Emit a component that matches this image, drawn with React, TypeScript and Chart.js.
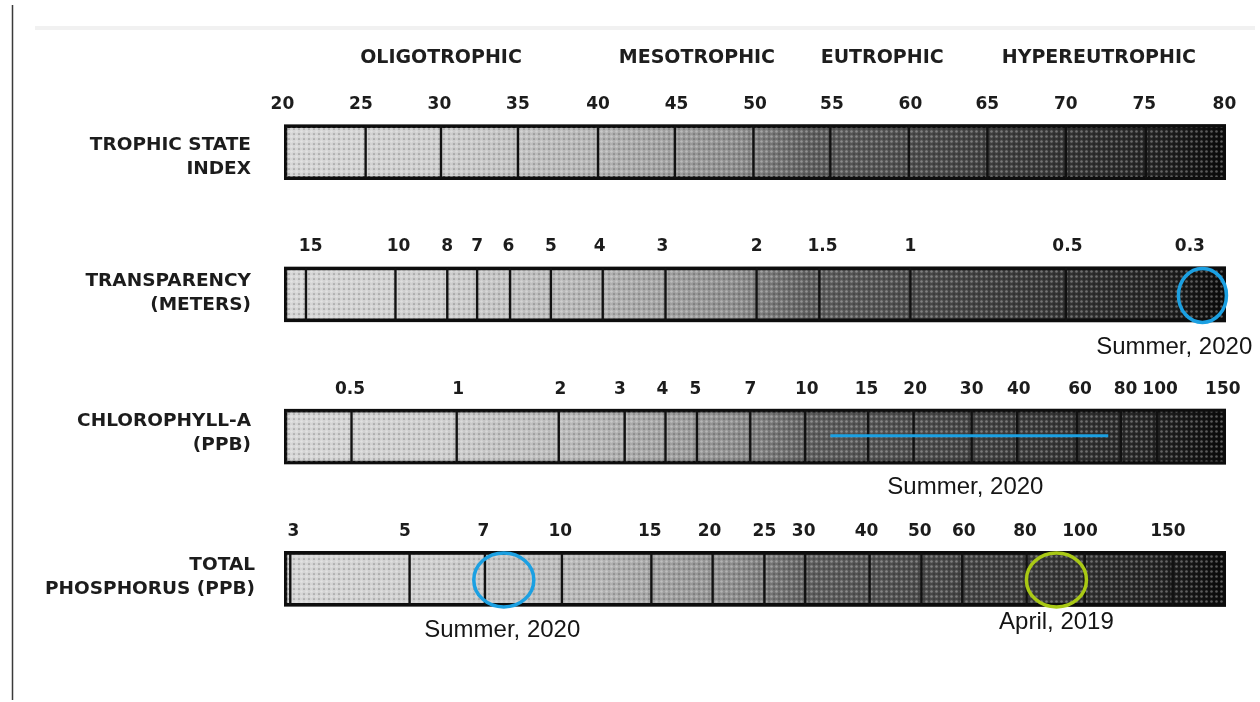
import { useEffect, useRef } from 'react';
import { Chart, registerables } from 'chart.js';

Chart.register(...registerables);

// ---------- DATA (positions on the Trophic State Index scale) ----------
const rowNames = ['TSI', 'Transparency', 'Chlorophyll', 'Phosphorus'];
const rowLabelLines = [
  ['TROPHIC STATE', 'INDEX'],
  ['TRANSPARENCY', '(METERS)'],
  ['CHLOROPHYLL-A', '(PPB)'],
  ['TOTAL', 'PHOSPHORUS (PPB)'],
];
const barStart = [20, 20, 20, 20];
const barEnd = [80, 80, 80, 80];

const stateNames = ['OLIGOTROPHIC', 'MESOTROPHIC', 'EUTROPHIC', 'HYPEREUTROPHIC'];
const statePos = [30.0, 46.3, 58.1, 71.9];

const tsiLabels = ['20', '25', '30', '35', '40', '45', '50', '55', '60', '65', '70', '75', '80'];
const tsiLabelPos = [19.9, 24.9, 29.9, 34.9, 40.0, 45.0, 50.0, 54.9, 59.9, 64.8, 69.8, 74.8, 79.9];
const tsiDividers = [25.2, 30.0, 34.9, 40.0, 44.9, 49.9, 54.8, 59.8, 64.8, 69.8, 74.9];

const sdLabels = ['15', '10', '8', '7', '6', '5', '4', '3', '2', '1.5', '1', '0.5', '0.3'];
const sdLabelPos = [21.7, 27.3, 30.4, 32.3, 34.3, 37.0, 40.1, 44.1, 50.1, 54.3, 59.9, 69.9, 77.7];
const sdDividers = [21.4, 27.1, 30.4, 32.3, 34.4, 37.0, 40.3, 44.3, 50.1, 54.1, 59.9, 69.8];

const chlLabels = ['0.5', '1', '2', '3', '4', '5', '7', '10', '15', '20', '30', '40', '60', '80', '100', '150'];
const chlLabelPos = [24.2, 31.1, 37.6, 41.4, 44.1, 46.2, 49.7, 53.3, 57.1, 60.2, 63.8, 66.8, 70.7, 73.6, 75.8, 79.8];
const chlDividers = [24.3, 31.0, 37.5, 41.7, 44.3, 46.3, 49.7, 53.2, 57.2, 60.1, 63.8, 66.7, 70.5, 73.3, 75.6];

const tpLabels = ['3', '5', '7', '10', '15', '20', '25', '30', '40', '50', '60', '80', '100', '150'];
const tpLabelPos = [20.6, 27.7, 32.7, 37.6, 43.3, 47.1, 50.6, 53.1, 57.1, 60.5, 63.3, 67.2, 70.7, 76.3];
const tpDividers = [20.4, 28.0, 32.8, 37.7, 43.4, 47.3, 50.6, 53.2, 57.3, 60.6, 63.2, 67.3, 71.0, 76.6];

// observations
const circleRow = [1, 3, 3];
const circlePos = [78.5, 34.0, 69.2];
const circleColor = ['#1ba0e2', '#1ba0e2', '#a9c915'];
const lineRow = [2];
const lineFrom = [54.8];
const lineTo = [72.5];
const noteText = ['Summer, 2020', 'Summer, 2020', 'Summer, 2020', 'April, 2019'];
const noteRow = [1, 2, 3, 3];
const notePos = [76.7, 63.4, 33.9, 69.2];

// --------------------------------------------------------------------------------------------
const rowTickLabels = [tsiLabels, sdLabels, chlLabels, tpLabels];
const rowTickPos = [tsiLabelPos, sdLabelPos, chlLabelPos, tpLabelPos];
const rowDividers = [tsiDividers, sdDividers, chlDividers, tpDividers];

const BOLD = '"DejaVu Sans", "Liberation Sans", sans-serif';
const NOTE = '"Liberation Sans", Arial, sans-serif';

function makeGradient(chart: any) {
  const area = chart.chartArea;
  if (!area) return '#999';
  const g = chart.ctx.createLinearGradient(area.left, 0, area.right, 0);
  g.addColorStop(0.0, '#d6d6d6');
  g.addColorStop(0.17, '#cdcdcd');
  g.addColorStop(0.33, '#b4b4b4');
  g.addColorStop(0.48, '#8c8c8c');
  g.addColorStop(0.56, '#5c5c5c');
  g.addColorStop(0.67, '#4a4a4a');
  g.addColorStop(0.83, '#333333');
  g.addColorStop(0.92, '#242424');
  g.addColorStop(1.0, '#0a0a0a');
  return g;
}

const decor = {
  id: 'decor',
  beforeDraw(chart: any) {
    const ctx = chart.ctx;
    ctx.save();
    ctx.fillStyle = '#ffffff';
    ctx.fillRect(0, 0, chart.width, chart.height);
    // faint scan line at top
    ctx.strokeStyle = '#f1f1f1';
    ctx.lineWidth = 4;
    ctx.beginPath();
    ctx.moveTo(35, 28);
    ctx.lineTo(1255, 28);
    ctx.stroke();
    // left frame line
    ctx.strokeStyle = '#3a3a3a';
    ctx.lineWidth = 1.5;
    ctx.beginPath();
    ctx.moveTo(12.5, 5);
    ctx.lineTo(12.5, 700);
    ctx.stroke();
    ctx.restore();
  },
  afterDatasetsDraw(chart: any) {
    const ctx = chart.ctx;
    const xs = chart.scales.x;
    const meta = chart.getDatasetMeta(1);
    const area = chart.chartArea;
    ctx.save();

    // state headers
    ctx.fillStyle = '#1e1e1e';
    ctx.font = `bold 19px ${BOLD}`;
    ctx.textAlign = 'center';
    ctx.textBaseline = 'middle';
    stateNames.forEach((s, i) => ctx.fillText(s, xs.getPixelForValue(statePos[i]), 58));

    const labelShift = [5, -1, -3, -2];

    rowNames.forEach((_, r) => {
      const el = meta.data[r];
      const p = el.getProps(['y', 'height'], true);
      const top = p.y - p.height / 2;
      const bottom = p.y + p.height / 2;

      // dividers
      ctx.strokeStyle = '#111111';
      ctx.lineWidth = 2.4;
      rowDividers[r].forEach((v) => {
        const x = xs.getPixelForValue(v);
        ctx.beginPath();
        ctx.moveTo(x, top + 1);
        ctx.lineTo(x, bottom - 1);
        ctx.stroke();
      });

      // tick labels
      ctx.fillStyle = '#1c1c1c';
      ctx.font = `bold 17px ${BOLD}`;
      ctx.textAlign = 'center';
      ctx.textBaseline = 'middle';
      rowTickLabels[r].forEach((t, i) => {
        ctx.fillText(t, xs.getPixelForValue(rowTickPos[r][i]), top - 20);
      });

      // row labels
      ctx.font = `bold 18.5px ${BOLD}`;
      ctx.textAlign = 'right';
      const lx = area.left - (r === 3 ? 29 : 33);
      ctx.fillText(rowLabelLines[r][0], lx, p.y - 12 + labelShift[r]);
      ctx.fillText(rowLabelLines[r][1], lx, p.y + 12 + labelShift[r]);
    });

    // observation line
    lineRow.forEach((r, i) => {
      const p = meta.data[r].getProps(['y'], true);
      ctx.strokeStyle = '#1ba0e2';
      ctx.lineWidth = 3;
      ctx.beginPath();
      ctx.moveTo(xs.getPixelForValue(lineFrom[i]), p.y - 1);
      ctx.lineTo(xs.getPixelForValue(lineTo[i]), p.y - 1);
      ctx.stroke();
    });

    // observation circles
    circleRow.forEach((r, i) => {
      const p = meta.data[r].getProps(['y'], true);
      const rx = r === 1 ? 24 : 30;
      const ry = 27;
      ctx.strokeStyle = circleColor[i];
      ctx.lineWidth = 3.5;
      ctx.beginPath();
      ctx.ellipse(xs.getPixelForValue(circlePos[i]), p.y + 1, rx, ry, 0, 0, Math.PI * 2);
      ctx.stroke();
    });

    // notes
    const noteDy = [53, 51, 51, 43];
    ctx.fillStyle = '#151515';
    ctx.font = `24px ${NOTE}`;
    ctx.textAlign = 'center';
    ctx.textBaseline = 'middle';
    noteText.forEach((t, i) => {
      const p = meta.data[noteRow[i]].getProps(['y'], true);
      ctx.fillText(t, xs.getPixelForValue(notePos[i]), p.y + noteDy[i]);
    });

    ctx.restore();
  },
};

export default function App() {
  const ref = useRef<HTMLCanvasElement>(null);

  useEffect(() => {
    document.body.style.margin = '0';
    const canvas = ref.current!;
    const ctx = canvas.getContext('2d')!;

    const tile = document.createElement('canvas');
    tile.width = 5;
    tile.height = 5;
    const t = tile.getContext('2d')!;
    t.fillStyle = 'rgba(255,255,255,0.32)';
    t.beginPath();
    t.arc(1.5, 1.5, 1.3, 0, Math.PI * 2);
    t.fill();
    t.fillStyle = 'rgba(0,0,0,0.18)';
    t.beginPath();
    t.arc(4, 4, 1.1, 0, Math.PI * 2);
    t.fill();
    const pattern = ctx.createPattern(tile, 'repeat');

    const ranges = rowNames.map((_, i) => [barStart[i], barEnd[i]]);

    const chart = new Chart(canvas, {
      type: 'bar',
      data: {
        labels: rowNames,
        datasets: [
          {
            data: ranges as any,
            backgroundColor: (c: any) => makeGradient(c.chart),
            borderWidth: 0,
            barThickness: 55,
            grouped: false,
            order: 2,
          } as any,
          {
            data: ranges as any,
            backgroundColor: pattern as any,
            borderColor: '#0d0d0d',
            borderWidth: 3,
            borderSkipped: false,
            barThickness: 55,
            grouped: false,
            order: 1,
          } as any,
        ],
      },
      options: {
        indexAxis: 'y',
        responsive: false,
        animation: false,
        layout: { padding: { left: 284, right: 34, top: 81, bottom: 52 } },
        scales: {
          x: { type: 'linear', min: 20, max: 80, display: false },
          y: { display: false },
        },
        plugins: {
          legend: { display: false },
          tooltip: { enabled: false },
        },
      },
      plugins: [decor],
    });

    return () => chart.destroy();
  }, []);

  return (
    <div style={{ width: 1260, height: 702 }}>
      <canvas ref={ref} width={1260} height={702} style={{ display: 'block' }} />
    </div>
  );
}
